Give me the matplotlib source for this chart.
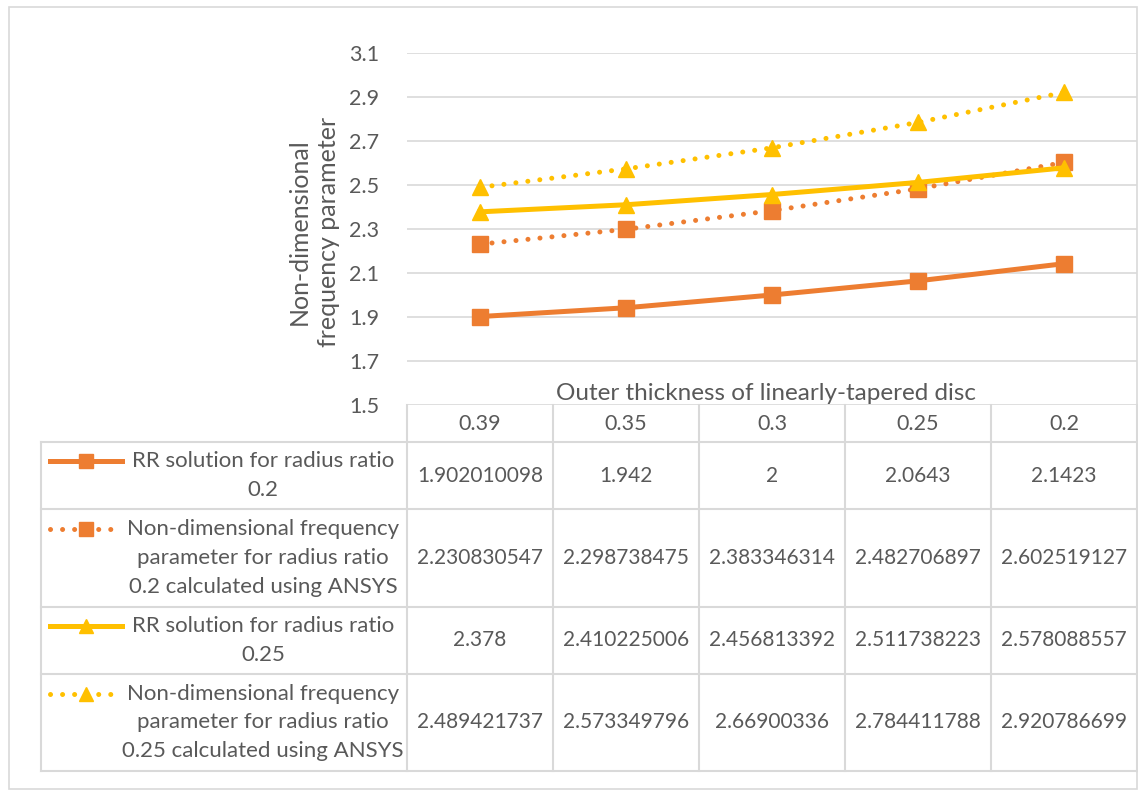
import numpy as np
import matplotlib
matplotlib.use("Agg")
import matplotlib.pyplot as plt
from matplotlib.lines import Line2D
from matplotlib.patches import Rectangle

# datos
categorias = ["0.39", "0.35", "0.3", "0.25", "0.2"]
rr_02 = [1.902010098, 1.942, 2, 2.0643, 2.1423]
ansys_02 = [2.230830547, 2.298738475, 2.383346314, 2.482706897, 2.602519127]
rr_025 = [2.378, 2.410225006, 2.456813392, 2.511738223, 2.578088557]
ansys_025 = [2.489421737, 2.573349796, 2.66900336, 2.784411788, 2.920786699]

nombres = ["RR solution for radius ratio\n0.2",
           "Non-dimensional frequency\nparameter for radius ratio\n0.2 calculated using ANSYS",
           "RR solution for radius ratio\n0.25",
           "Non-dimensional frequency\nparameter for radius ratio\n0.25 calculated using ANSYS"]

NARANJA = "#ED7D31"
AMARILLO = "#FFC000"
GRIS = "#595959"
REJILLA = "#D9D9D9"

plt.rcParams['font.family'] = ['Lato', 'DejaVu Sans']
FS = 15

W, H = 1138, 792
fig = plt.figure(figsize=(W / 100, H / 100), dpi=100)

# zona del grafico (en pixeles)
x0, x1 = 407, 1137
y_top, y_bot = 53, 405
ax = fig.add_axes([x0 / W, 1 - y_bot / H, (x1 - x0) / W, (y_bot - y_top) / H])

punteado = (0, (0.01, 2.4))
series = [
    (rr_02, NARANJA, '-', 's', 3.6),
    (ansys_02, NARANJA, punteado, 's', 3.6),
    (rr_025, AMARILLO, '-', '^', 3.6),
    (ansys_025, AMARILLO, punteado, '^', 3.6),
]
xx = np.arange(len(categorias))
for vals, col, ls, mk, lw in series:
    ax.plot(xx, vals, color=col, linestyle=ls, lw=lw, dash_capstyle='round',
            marker=mk, markersize=12, markeredgecolor=col, markerfacecolor=col,
            zorder=3)

ax.set_xlim(-0.5, len(categorias) - 0.5)
ax.set_ylim(1.5, 3.1)
ax.set_yticks(np.arange(1.5, 3.11, 0.2))
ax.set_yticklabels([f"{t:.1f}" for t in np.arange(1.5, 3.11, 0.2)])
ax.set_xticks([])
ax.grid(axis='y', color=REJILLA, lw=1.2)
ax.set_axisbelow(True)
for s in ax.spines.values():
    s.set_visible(False)
ax.tick_params(axis='y', length=0, pad=20, labelsize=FS + 0.5, labelcolor=GRIS)

fig.text(314 / W, 1 - 232 / H, "Non-dimensional\nfrequency parameter", rotation=90,
         ha='center', va='center', multialignment='center', fontsize=18,
         color=GRIS, linespacing=1.35)
fig.text(766 / W, 1 - 394 / H, "Outer thickness of linearly-tapered disc",
         ha='center', va='center', fontsize=17.5, color=GRIS)

# tabla de datos debajo del grafico
tab = fig.add_axes([0, 0, 1, 1])
tab.set_xlim(0, W)
tab.set_ylim(H, 0)
tab.axis('off')
tab.patch.set_alpha(0)

tab.add_patch(Rectangle((9, 7), 1128, 782, fill=False, ec=REJILLA, lw=1.2))

x_leg = 41
cols = np.linspace(x0, x1, len(categorias) + 1)
filas = [405, 442, 509, 607, 674, 771]

for y in filas[1:]:
    tab.plot([x_leg, x1], [y, y], color=REJILLA, lw=1.5)
for x in cols:
    tab.plot([x, x], [filas[0], filas[-1]], color=REJILLA, lw=1.5)
tab.plot([x_leg, x_leg], [filas[1], filas[-1]], color=REJILLA, lw=1.5)

centros = (cols[:-1] + cols[1:]) / 2
for cx, cat in zip(centros, categorias):
    tab.text(cx, (filas[0] + filas[1]) / 2, cat, ha='center', va='center',
             fontsize=FS + 0.5, color=GRIS)

paso = 29
for i, (vals, col, ls, mk, lw) in enumerate(series):
    ya, yb = filas[i + 1], filas[i + 2]
    yc = (ya + yb) / 2
    for cx, v in zip(centros, vals):
        tab.text(cx, yc, f"{v:.10g}", ha='center', va='center', fontsize=FS,
                 color=GRIS)
    nl = nombres[i].count("\n") + 1
    tab.text(263, yc, nombres[i], ha='center', va='center',
             multialignment='center', fontsize=16, color=GRIS, linespacing=1.55)
    y_l = yc - (nl - 1) / 2 * paso
    tab.add_line(Line2D([50, 122], [y_l, y_l], color=col, linestyle=ls, lw=lw,
                        dash_capstyle='round'))
    tab.add_line(Line2D([86], [y_l], color=col, marker=mk, markersize=10,
                        markeredgecolor=col, markerfacecolor=col))

fig.savefig("out.png", dpi=100, facecolor='white')
